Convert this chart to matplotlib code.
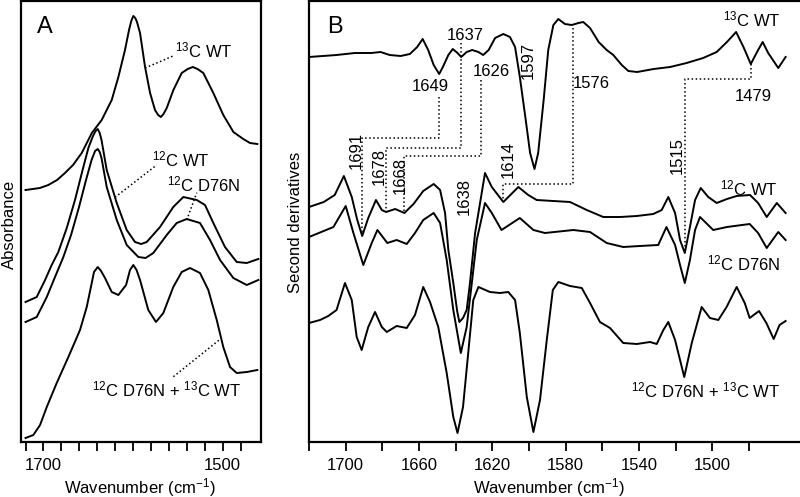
import matplotlib
matplotlib.use("Agg")
import matplotlib.pyplot as plt

plt.rcParams['font.family'] = ['Liberation Sans', 'DejaVu Sans']
plt.rcParams['mathtext.fontset'] = 'custom'
plt.rcParams['mathtext.rm'] = 'Liberation Sans'
plt.rcParams['mathtext.it'] = 'Liberation Sans:italic'
plt.rcParams['mathtext.bf'] = 'Liberation Sans:bold'

# ---------------- panel A: absorbance (arbitrary offset units) ----------------
a_13c_wt_wn = [1720, 1704, 1694.6, 1684.8, 1676, 1667, 1657.3, 1646, 1635, 1623.8, 1616.4, 1609,
               1604.5, 1602, 1599.7, 1597.5, 1595.6, 1592.2, 1586.6, 1581, 1575.5, 1572, 1569,
               1566, 1562.4, 1555, 1545.7, 1539, 1533.4, 1528, 1521.6, 1510.4, 1499.3, 1488, 1477,
               1469.5, 1461.3]
a_13c_wt = [252, 254, 257, 262, 269, 277, 289, 309, 322, 342, 365, 392, 412, 421, 426, 424, 420,
            409, 375, 349, 332, 327, 325, 328, 334, 352, 369, 373, 375, 373, 369, 349, 327, 310,
            303, 299, 298]

a_12c_wt_wn = [1720, 1707.5, 1698.2, 1690.8, 1683.4, 1674, 1664.8, 1656.9, 1649.9, 1644.7, 1641.8,
               1639.4, 1637.2, 1635.2, 1629.4, 1618.2, 1607.1, 1597.8, 1591, 1584.7, 1569.9,
               1555.1, 1543.9, 1528.9, 1519.7, 1510.4, 1497.4, 1484.3, 1473.1, 1460.2]
a_12c_wt = [140, 145, 162, 177, 190, 214, 242, 270, 294, 306, 311, 313, 309, 302, 272, 239, 212,
            200, 198, 200, 215, 235, 245, 242, 237, 219, 195, 180, 179, 183]

a_d76n_wn = [1720, 1707.5, 1696.3, 1687.1, 1677.8, 1669.2, 1660.3, 1652.5, 1646.3, 1642.4, 1639.4,
             1637.2, 1635.2, 1629.4, 1618.2, 1607.1, 1594.1, 1586, 1577.4, 1562.4, 1551.3, 1540.1,
             1525.3, 1514.1, 1502.9, 1488.1, 1473.1, 1460.2]
a_d76n = [120, 125, 145, 165, 185, 207, 235, 262, 282, 291, 293, 290, 284, 255, 222, 197, 185,
          184, 189, 207, 219, 223, 219, 202, 182, 164, 157, 162]

a_mix_wn = [1720, 1711.3, 1703.8, 1696.3, 1685.2, 1672.2, 1659.2, 1651.7, 1646.1, 1643.6, 1639.4,
            1635.7, 1631.3, 1623.8, 1616.4, 1607.8, 1603.4, 1599.7, 1596.1, 1592.2, 1583, 1574.4,
            1566.2, 1555.1, 1545.7, 1536.4, 1525.3, 1516, 1506.6, 1499.3, 1491.8, 1484.3, 1473.1,
            1461.3]
a_mix = [4, 7, 17, 35, 59, 85, 112, 135, 159, 170, 175, 171, 164, 150, 147, 157, 172, 177, 172,
         162, 132, 120, 129, 155, 170, 174, 169, 152, 122, 95, 75, 69, 70, 72]

# ---------------- panel B: second derivatives (arbitrary offset units) ----------------
b_13c_wt_wn = [1720, 1705, 1695, 1686, 1681, 1676, 1670, 1665, 1661, 1658, 1655, 1652, 1649, 1647,
               1644, 1641.6, 1639, 1637, 1634, 1631, 1627.6, 1625, 1622, 1618.5, 1614, 1610.4,
               1607.6, 1605, 1602, 1599.4, 1597, 1595, 1592, 1589.5, 1586.7, 1584, 1580.4, 1576.7,
               1573, 1570.4, 1566.7, 1562, 1557.6, 1554, 1549.4, 1545.8, 1541, 1532, 1523, 1514,
               1505, 1497.6, 1492, 1487, 1483, 1479, 1475, 1472.5, 1469.5, 1464, 1460]
b_13c_wt = [385, 387, 389, 389, 390, 387, 386, 388, 395, 403, 392, 377, 368, 375, 387, 393, 389,
            385, 390, 392, 390, 387, 392, 404, 408, 405, 395, 365, 325, 289, 273, 289, 342, 392,
            417, 423, 418, 417, 419, 420, 414, 400, 392, 387, 377, 371, 370, 373, 375, 379, 384,
            390, 400, 410, 395, 378, 392, 400, 389, 374, 385]

b_12c_wt_wn = [1720, 1712, 1706, 1701, 1696.7, 1693.7, 1691, 1687.7, 1683.5, 1680.3, 1678, 1673,
               1668, 1663, 1657.7, 1652, 1648.5, 1645.8, 1644, 1641.3, 1639.2, 1638, 1636, 1634,
               1632.2, 1629.4, 1624, 1620.3, 1614, 1605.8, 1600.4, 1595.8, 1586.7, 1577.6, 1568.5,
               1559.5, 1550.3, 1541.2, 1532.2, 1527.6, 1524, 1520.3, 1517.6, 1515, 1512.2, 1509.4,
               1506.3, 1502.2, 1497.6, 1492, 1486.7, 1479.4, 1475, 1470.3, 1464.8, 1460]
b_12c_wt = [235, 240, 247, 266, 245, 222, 206, 224, 242, 232, 230, 233, 229, 238, 251, 258, 252,
            229, 192, 159, 131, 120, 124, 132, 159, 209, 269, 255, 240, 255, 247, 242, 241, 240,
            232, 225, 225, 226, 228, 232, 245, 229, 202, 189, 215, 242, 254, 245, 239, 243, 246,
            247, 239, 225, 239, 229]

b_d76n_wn = [1720, 1706.7, 1700, 1695.8, 1690.4, 1685.8, 1682.7, 1677.3, 1672.2, 1666.7, 1662.2,
             1657.7, 1652, 1648.5, 1644.9, 1641.3, 1637.2, 1634, 1631.2, 1628.5, 1624, 1620.3, 1615,
             1605, 1597.6, 1591.3, 1575.8, 1566.7, 1557.6, 1548.6, 1539.5, 1529.5, 1525, 1520.3,
             1517.6, 1515, 1512.2, 1509.4, 1506.7, 1499.5, 1492, 1479.6, 1475, 1470.3, 1464, 1460]
b_d76n = [205, 215, 236, 209, 177, 199, 212, 199, 202, 198, 209, 222, 229, 219, 182, 132, 89, 115,
          159, 202, 239, 229, 212, 224, 212, 209, 212, 210, 199, 195, 196, 197, 215, 197, 177, 159,
          182, 212, 225, 212, 215, 218, 209, 194, 210, 202]

b_mix_wn = [1720, 1714, 1709.5, 1705, 1700.4, 1696.7, 1694, 1691.3, 1687.7, 1684, 1680.3, 1677.6,
            1672.2, 1666.7, 1662.2, 1657.7, 1654, 1649.5, 1644.9, 1641.3, 1639, 1636, 1633, 1630.4,
            1627.6, 1621.3, 1615.8, 1611.3, 1607.6, 1605, 1601.2, 1597.6, 1594, 1590.3, 1587, 1584,
            1577.6, 1571.2, 1566.7, 1561.3, 1555.8, 1548.6, 1541.2, 1534, 1530.3, 1526.7, 1524,
            1520.3, 1515.3, 1511.2, 1505.8, 1501.3, 1496.7, 1492.2, 1486.7, 1482.3, 1479.6, 1474.5,
            1470.5, 1466.5, 1463.3, 1460]
b_mix = [119, 122, 126, 132, 159, 142, 105, 92, 115, 130, 115, 110, 116, 114, 127, 155, 140, 115,
         69, 25, 9, 35, 92, 142, 155, 150, 149, 150, 142, 109, 45, 10, 42, 102, 152, 160, 156, 154,
         139, 120, 114, 99, 98, 100, 98, 112, 120, 102, 65, 99, 135, 124, 122, 135, 155, 139, 124,
         131, 119, 103, 117, 121]

# band assignments in panel B: (13C band, 12C band)
pairs = [(1649, 1691), (1637, 1678), (1626, 1668), (1576, 1614), (1479, 1515)]

a_ticks = [1720, 1700, 1680, 1660, 1640, 1620, 1600, 1580, 1560, 1540, 1520, 1500, 1480]
a_ticklabels = ['', '1700', '', '', '', '', '', '', '', '', '', '1500', '']
b_ticks = [1720, 1700, 1680, 1660, 1640, 1620, 1600, 1580, 1560, 1540, 1520, 1500, 1480]
b_ticklabels = ['', '1700', '', '1660', '', '1620', '', '1580', '', '1540', '', '1500', '']

W, H = 800, 497
fig = plt.figure(figsize=(W / 100, H / 100), dpi=100)


def px_axes(left, top, right, bottom):
    return fig.add_axes([left / W, 1 - bottom / H, (right - left) / W, (bottom - top) / H])


axA = px_axes(20.7, 1, 261, 441.7)
axB = px_axes(308.5, 1, 801, 441.7)

for ax in (axA, axB):
    for s in ax.spines.values():
        s.set_linewidth(1.6)
    ax.set_yticks([])
    ax.tick_params(axis='x', direction='out', length=6.5, width=1.3, pad=5.5, labelsize=12)
    ax.set_ylim(0.3, 441)
axB.spines['right'].set_visible(False)

lw = 1.4
dot = dict(ls=':', color='black', lw=1.1)

# panel A
axA.set_xlim(1725.4, 1457.2)
axA.plot(a_13c_wt_wn, a_13c_wt, color='black', lw=lw)
axA.plot(a_12c_wt_wn, a_12c_wt, color='black', lw=lw)
axA.plot(a_d76n_wn, a_d76n, color='black', lw=lw)
axA.plot(a_mix_wn, a_mix, color='black', lw=lw)
axA.set_xticks(a_ticks)
axA.set_xticklabels(a_ticklabels)
axA.text(1698.2, 415, 'A', fontsize=17, ha='center', va='center')

axA.plot([1586.6, 1555.4], [374, 386], **dot)
axA.text(1553.2, 392, r'$^{13}$C WT', fontsize=12, ha='left', va='center')
axA.plot([1620.1, 1573.6], [244.7, 277], **dot)
axA.text(1579.2, 282.7, r'$^{12}$C WT', fontsize=12, ha='left', va='center')
axA.plot([1540.1, 1528.9], [222, 249.3], **dot)
axA.text(1562.4, 258, r'$^{12}$C D76N', fontsize=12, ha='left', va='center')
axA.plot([1555, 1502.9], [65.3, 102.7], **dot)
axA.text(1646.1, 52.7, r'$^{12}$C D76N + $^{13}$C WT', fontsize=12, ha='left', va='center')

axA.set_xlabel('Wavenumber (cm$^{-1}$)', fontsize=12)
axA.xaxis.set_label_coords(0.495, -0.077)
fig.text(9 / W, 1 - 224.6 / H, 'Absorbance', rotation=90, ha='center', va='center', fontsize=12)

# panel B
axB.set_xlim(1720.3, 1451.6)
axB.plot(b_13c_wt_wn, b_13c_wt, color='black', lw=lw)
axB.plot(b_12c_wt_wn, b_12c_wt, color='black', lw=lw)
axB.plot(b_d76n_wn, b_d76n, color='black', lw=lw)
axB.plot(b_mix_wn, b_mix, color='black', lw=lw)
axB.set_xticks(b_ticks)
axB.set_xticklabels(b_ticklabels)
axB.text(1705.8, 415, 'B', fontsize=17, ha='center', va='center')

# dotted connectors: top y (13C side), step height, bottom y (12C trough)
conn = [(345.3, 304.3, 207), (399, 294.3, 231), (362, 286.3, 229), (414, 258, 241), (378, 362.7, 191)]
for (w13, w12), (ytop, ystep, ybot) in zip(pairs, conn):
    axB.plot([w13, w13, w12, w12], [ytop, ystep, ystep, ybot], **dot)

for t, x, y in [('1649', 1654, 355), ('1637', 1634.9, 406), ('1626', 1620.3, 370.3),
                ('1576', 1565.8, 358), ('1479', 1477.6, 345.3)]:
    axB.text(x, y, t, fontsize=12, ha='center', va='center')
for t, x, y in [('1597', 1600.4, 382), ('1691', 1694.5, 292), ('1678', 1681.7, 275.3),
                ('1668', 1670.4, 266), ('1638', 1635.2, 245), ('1614', 1611.3, 282),
                ('1515', 1519.1, 286)]:
    axB.text(x, y, t, fontsize=12, ha='center', va='center', rotation=90)

axB.text(1462.7, 422.7, r'$^{13}$C WT', fontsize=12, ha='right', va='center')
axB.text(1464.2, 253.7, r'$^{12}$C WT', fontsize=12, ha='right', va='center')
axB.text(1463, 178.7, r'$^{12}$C D76N', fontsize=12, ha='right', va='center')
axB.text(1463, 51.3, r'$^{12}$C D76N + $^{13}$C WT', fontsize=12, ha='right', va='center')

axB.set_xlabel('Wavenumber (cm$^{-1}$)', fontsize=12)
axB.xaxis.set_label_coords(0.487, -0.077)
fig.text(296 / W, 1 - 222.5 / H, 'Second derivatives', rotation=90, ha='center', va='center',
         fontsize=12)

fig.savefig('out.png', dpi=100)
